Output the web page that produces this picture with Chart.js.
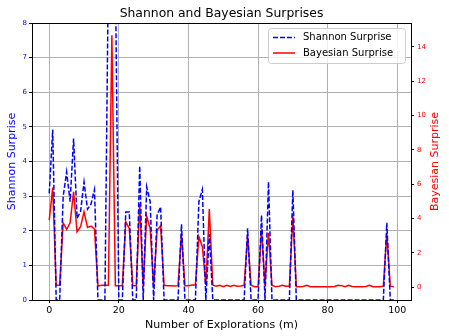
<!DOCTYPE html>
<html lang="en">
<head>
    <meta charset="UTF-8">
    <title>Shannon and Bayesian Surprises</title>
    <script src="https://cdn.jsdelivr.net/npm/chart.js"></script>
    <style>
        body {
            margin: 0;
            background: white;
        }
    </style>
</head>
<body>
    <canvas id="surpriseChart" width="449" height="336"></canvas>

    <script>
        // Data
        const explorations = [
            0, 1, 2, 3, 4, 5, 6, 7, 8, 9,
            10, 11, 12, 13, 14, 15, 16, 17, 18, 19,
            20, 21, 22, 23, 24, 25, 26, 27, 28, 29,
            30, 31, 32, 33, 34, 35, 36, 37, 38, 39,
            40, 41, 42, 43, 44, 45, 46, 47, 48, 49,
            50, 51, 52, 53, 54, 55, 56, 57, 58, 59,
            60, 61, 62, 63, 64, 65, 66, 67, 68, 69,
            70, 71, 72, 73, 74, 75, 76, 77, 78, 79,
            80, 81, 82, 83, 84, 85, 86, 87, 88, 89,
            90, 91, 92, 93, 94, 95, 96, 97, 98, 99
        ];
        const shannonSurprise = [
            3.08, 4.92, 0, 0, 2.98, 3.70, 2.84, 4.66, 2.36, 2.55,
            3.41, 2.62, 2.77, 3.19, 0, 0, 0, 9.5, 9.0, 9.5,
            0, 0, 2.54, 2.54, 0, 0, 3.87, 0, 3.27, 2.84,
            0, 2.45, 2.69, 0, 0, 0, 0, 0, 2.19, 0,
            0, 0, 0, 2.84, 3.19, 0, 1.90, 0, 0, 0,
            0, 0, 0, 0, 0, 0, 0, 2.07, 0, 0,
            0, 2.45, 0, 3.41, 0, 0, 0, 0, 0, 0,
            3.17, 0, 0, 0, 0, 0, 0, 0, 0, 0,
            0, 0, 0, 0, 0, 0, 0, 0, 0, 0,
            0, 0, 0, 0, 0, 0, 0, 2.23, 0, 0
        ];
        const bayesianSurprise = [
            3.90, 5.80, 0.10, 0.10, 3.74, 3.36, 3.74, 5.55, 3.22, 3.51,
            4.38, 3.47, 3.55, 3.39, 0.06, 0.10, 0.10, 0.10, 14.68, 0.08,
            0.08, 0.08, 3.80, 3.41, 0.08, 0.08, 4.83, 0.08, 4.13, 3.41,
            0.08, 3.32, 3.57, 0.10, 0.08, 0.08, 0.06, 0.08, 3.06, 0.08,
            0.08, 0.12, 0.12, 2.93, 2.35, 0.12, 4.54, 0.12, 0.04, 0.10,
            0.02, 0.10, 0.03, 0.10, 0.04, 0.06, 0.10, 2.97, 0.10, 0.02,
            0.02, 3.36, 0.12, 3.16, 0.10, 0.02, 0.05, 0.10, 0.05, 0.05,
            4.13, 0.02, 0.02, 0.03, 0.10, 0.02, 0.02, 0.01, 0.02, 0.02,
            0.02, 0.02, 0.03, 0.10, 0.08, 0.02, 0.10, 0.03, 0.02, 0.02,
            0.02, 0.03, 0.10, 0.02, 0.02, 0.02, 0.05, 3.12, 0.05, 0.02
        ];
        const xTicks = [0, 20, 40, 60, 80, 100];
        const shannonTicks = [0, 1, 2, 3, 4, 5, 6, 7, 8];
        const bayesianTicks = [0, 2, 4, 6, 8, 10, 12, 14];

        const FONT = "'DejaVu Sans', sans-serif";

        // title, top spine, right axis label and the legend inside the plot
        const extras = {
            id: 'extras',
            afterDatasetsDraw(chart) {
                const ctx = chart.ctx;
                const a = chart.chartArea;
                ctx.save();

                // frame
                ctx.strokeStyle = '#000';
                ctx.lineWidth = 1;
                ctx.strokeRect(Math.round(a.left) + 0.5, Math.round(a.top) + 0.5,
                    Math.round(a.right - a.left), Math.round(a.bottom - a.top));

                // title
                ctx.fillStyle = '#000';
                ctx.font = '12.4px ' + FONT;
                ctx.textAlign = 'center';
                ctx.textBaseline = 'middle';
                ctx.fillText('Shannon and Bayesian Surprises', (a.left + a.right) / 2, 13.5);

                // right axis label, reads bottom to top like matplotlib
                ctx.save();
                ctx.translate(435, (a.top + a.bottom) / 2);
                ctx.rotate(-Math.PI / 2);
                ctx.fillStyle = 'red';
                ctx.font = '11px ' + FONT;
                ctx.fillText('Bayesian Surprise', 0, 0);
                ctx.restore();

                // legend
                const lx = 268, ly = 28, lw = 137, lh = 35;
                ctx.fillStyle = 'rgba(255,255,255,0.8)';
                ctx.strokeStyle = '#cccccc';
                ctx.beginPath();
                ctx.roundRect(lx + 0.5, ly + 0.5, lw, lh, 3);
                ctx.fill();
                ctx.stroke();

                const rows = [
                    { text: 'Shannon Surprise', color: 'blue', dash: [5, 2], y: 37.5 },
                    { text: 'Bayesian Surprise', color: 'red', dash: [], y: 53 }
                ];
                rows.forEach(r => {
                    ctx.strokeStyle = r.color;
                    ctx.lineWidth = 1.5;
                    ctx.setLineDash(r.dash);
                    ctx.beginPath();
                    ctx.moveTo(273, r.y);
                    ctx.lineTo(295, r.y);
                    ctx.stroke();
                    ctx.setLineDash([]);
                    ctx.fillStyle = '#000';
                    ctx.font = '10px ' + FONT;
                    ctx.textAlign = 'left';
                    ctx.textBaseline = 'middle';
                    ctx.fillText(r.text, 303, r.y);
                });
                ctx.restore();
            }
        };

        const ctx = document.getElementById('surpriseChart').getContext('2d');
        const surpriseChart = new Chart(ctx, {
            type: 'line',
            data: {
                labels: explorations,
                datasets: [{
                    label: 'Shannon Surprise',
                    data: shannonSurprise,
                    yAxisID: 'y',
                    borderColor: 'blue',
                    borderWidth: 1.5,
                    borderDash: [5, 2],
                    pointRadius: 0,
                    tension: 0,
                    fill: false
                }, {
                    label: 'Bayesian Surprise',
                    data: bayesianSurprise,
                    yAxisID: 'y1',
                    borderColor: 'red',
                    borderWidth: 1.5,
                    pointRadius: 0,
                    tension: 0,
                    fill: false
                }]
            },
            options: {
                responsive: false,
                animation: false,
                devicePixelRatio: 1,
                layout: { padding: { top: 23 } },
                plugins: {
                    legend: { display: false },
                    tooltip: { enabled: false }
                },
                scales: {
                    x: {
                        type: 'linear',
                        min: -4.95,
                        max: 103.95,
                        afterBuildTicks: s => { s.ticks = xTicks.map(v => ({ value: v })); },
                        afterFit: s => { s.height = 36; },
                        grid: { color: '#b0b0b0', lineWidth: 1, tickColor: '#000', tickLength: 3 },
                        border: { color: '#000', width: 1 },
                        ticks: { color: '#000', font: { family: FONT, size: 9.5 }, padding: 2, maxRotation: 0, autoSkip: false },
                        title: {
                            display: true,
                            text: 'Number of Explorations (m)',
                            color: '#000',
                            font: { family: FONT, size: 11 },
                            padding: { top: 0, bottom: 4 }
                        }
                    },
                    y: {
                        position: 'left',
                        min: 0,
                        max: 8,
                        afterBuildTicks: s => { s.ticks = shannonTicks.map(v => ({ value: v })); },
                        afterFit: s => { s.width = 32; },
                        grid: { color: '#b0b0b0', lineWidth: 1, tickColor: '#000', tickLength: 3 },
                        border: { color: '#000', width: 1 },
                        ticks: { color: 'blue', font: { family: FONT, size: 7 }, padding: 2, autoSkip: false },
                        title: {
                            display: true,
                            text: 'Shannon Surprise',
                            color: 'blue',
                            font: { family: FONT, size: 11 },
                            padding: { top: 6, bottom: 0 }
                        }
                    },
                    y1: {
                        position: 'right',
                        min: -0.757,
                        max: 15.39,
                        afterBuildTicks: s => { s.ticks = bayesianTicks.map(v => ({ value: v })); },
                        afterFit: s => { s.width = 38; },
                        grid: { drawOnChartArea: false, tickColor: '#000', tickLength: 3 },
                        border: { color: '#000', width: 1 },
                        ticks: { color: 'red', font: { family: FONT, size: 7 }, padding: 3, autoSkip: false },
                        title: { display: false }
                    }
                }
            },
            plugins: [extras]
        });
    </script>
</body>
</html>
